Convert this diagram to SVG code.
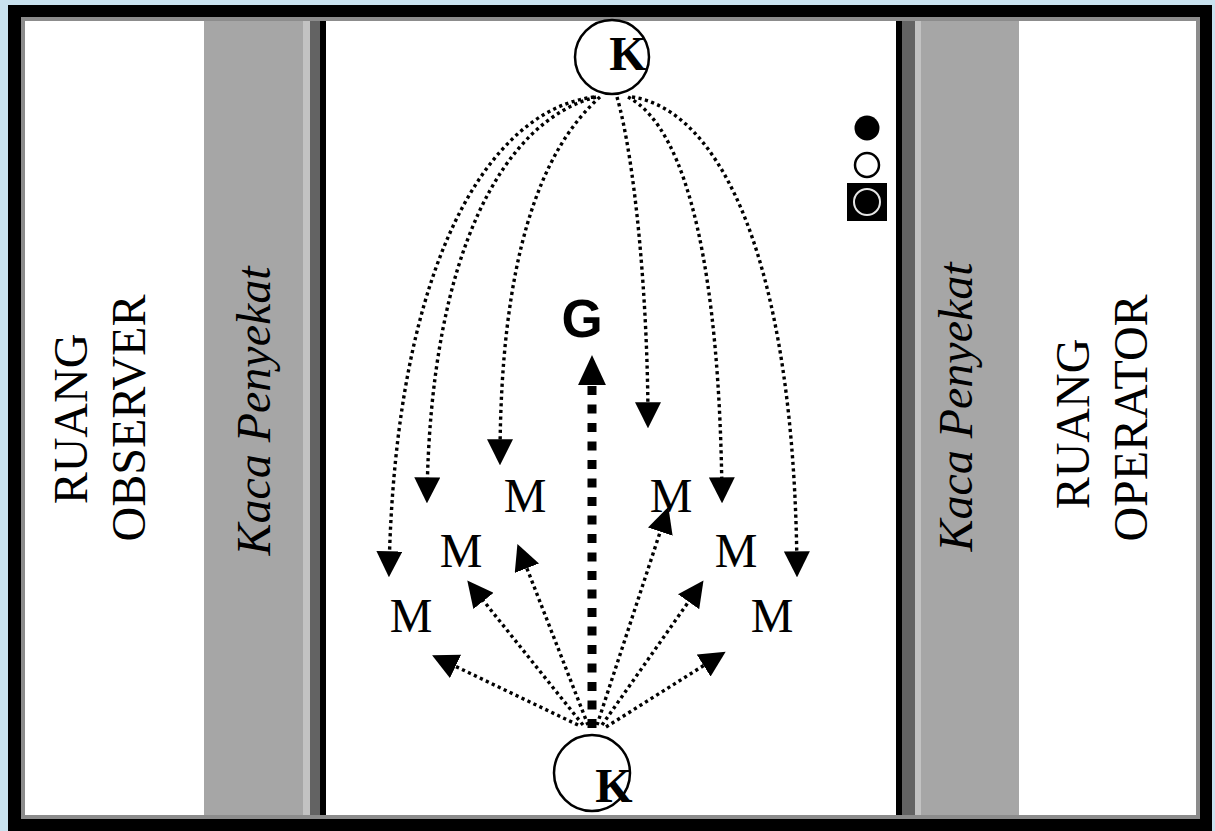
<svg xmlns="http://www.w3.org/2000/svg" width="1215" height="831" viewBox="0 0 1215 831">
<style>
.dot{fill:none;stroke:#000;stroke-width:3.4;stroke-dasharray:3.2 3.4}
.big{fill:none;stroke:#000;stroke-width:9;stroke-dasharray:9 9.5}
.serif{font-family:"Liberation Serif","Times New Roman",serif;fill:#000}
.room{font-size:48px;text-anchor:middle}
.kaca{font-size:48px;font-style:italic;text-anchor:middle}
.m{font-size:48px;text-anchor:middle}
.k{font-size:48px;font-weight:bold;text-anchor:middle}
.ring{fill:#fff;stroke:#000;stroke-width:2.5}
</style>
<defs>
<marker id="ah" markerUnits="userSpaceOnUse" markerWidth="26" markerHeight="26" refX="20" refY="12" orient="auto" viewBox="0 0 24 24">
<path d="M0,0 L24,12 L0,24 z" fill="#000"/>
</marker>
<marker id="bh" markerUnits="userSpaceOnUse" markerWidth="30" markerHeight="30" refX="0" refY="13" orient="auto" viewBox="0 0 28 26">
<path d="M0,0 L28,13 L0,26 z" fill="#000"/>
</marker>
</defs>
<rect x="0" y="0" width="1215" height="831" fill="#c9e2ef"/>
<g id="frame">
<rect x="8" y="5" width="1204" height="826" fill="#000"/>
<rect x="21" y="17" width="1179" height="802" fill="#8c8c8c"/>
<rect x="25" y="21" width="1171" height="794" fill="#fff"/>
</g>
<g id="wall-left">
<rect x="204" y="21" width="99" height="794" fill="#a6a6a6"/>
<rect x="303" y="21" width="7" height="794" fill="#c2c2c2"/>
<rect x="310" y="21" width="10" height="794" fill="#636363"/>
<rect x="320" y="21" width="6" height="794" fill="#000"/>
</g>
<g id="wall-right">
<rect x="896" y="21" width="6" height="794" fill="#000"/>
<rect x="902" y="21" width="13" height="794" fill="#636363"/>
<rect x="915" y="21" width="6" height="794" fill="#c2c2c2"/>
<rect x="921" y="21" width="98" height="794" fill="#a6a6a6"/>
</g>
<g id="label-observer" class="serif room">
<text transform="translate(87,419) rotate(-90)">RUANG</text>
<text transform="translate(145,418) rotate(-90)">OBSERVER</text>
</g>
<g id="label-kaca-left" class="serif kaca">
<text transform="translate(270,411) rotate(-90)">Kaca Penyekat</text>
</g>
<g id="label-kaca-right" class="serif kaca">
<text transform="translate(972,407) rotate(-90)">Kaca Penyekat</text>
</g>
<g id="label-operator" class="serif room">
<text transform="translate(1089,424) rotate(-90)">RUANG</text>
<text transform="translate(1147,418) rotate(-90)">OPERATOR</text>
</g>
<g id="legend">
<circle cx="867" cy="128" r="12.5" fill="#000"/>
<circle cx="867" cy="165" r="12" fill="#fff" stroke="#000" stroke-width="2.5"/>
<rect x="847" y="183" width="40" height="38" fill="#000"/>
<circle cx="867" cy="202" r="13" fill="#000" stroke="#e6e6e6" stroke-width="2"/>
</g>
<g id="connectors">
<path class="dot" d="M594 97 C490 110 395 260 389 573" marker-end="url(#ah)"/>
<path class="dot" d="M596 97 C505 120 430 250 427 499" marker-end="url(#ah)"/>
<path class="dot" d="M600 97 C540 150 500 260 500 461" marker-end="url(#ah)"/>
<path class="dot" d="M617 97 C635 160 648 300 648 424" marker-end="url(#ah)"/>
<path class="dot" d="M628 97 C690 130 720 280 722 499" marker-end="url(#ah)"/>
<path class="dot" d="M632 97 C720 110 795 260 797 573" marker-end="url(#ah)"/>
<path class="dot" d="M578 725 L436 657" marker-end="url(#ah)"/>
<path class="dot" d="M583 725 L470 584" marker-end="url(#ah)"/>
<path class="dot" d="M588 725 L519 548" marker-end="url(#ah)"/>
<path class="dot" d="M597 725 L667 511" marker-end="url(#ah)"/>
<path class="dot" d="M602 725 L701 584" marker-end="url(#ah)"/>
<path class="dot" d="M606 727 L722 654" marker-end="url(#ah)"/>
<path class="big" d="M592 728 L592 385" marker-end="url(#bh)"/>
</g>
<g id="node-k-top">
<circle class="ring" cx="612" cy="57" r="37"/>
<text class="serif k" x="628" y="70">K</text>
</g>
<g id="node-k-bottom">
<circle class="ring" cx="592" cy="773" r="38"/>
<text class="serif k" x="614" y="802">K</text>
</g>
<g id="node-g">
<text x="582" y="337" font-family="'Liberation Sans',Arial,sans-serif" font-weight="bold" font-size="53" text-anchor="middle" fill="#000">G</text>
</g>
<g id="node-m1"><text class="serif m" x="525" y="512">M</text></g>
<g id="node-m2"><text class="serif m" x="671" y="512">M</text></g>
<g id="node-m3"><text class="serif m" x="461" y="567">M</text></g>
<g id="node-m4"><text class="serif m" x="736" y="567">M</text></g>
<g id="node-m5"><text class="serif m" x="411" y="632">M</text></g>
<g id="node-m6"><text class="serif m" x="772" y="632">M</text></g>
</svg>
